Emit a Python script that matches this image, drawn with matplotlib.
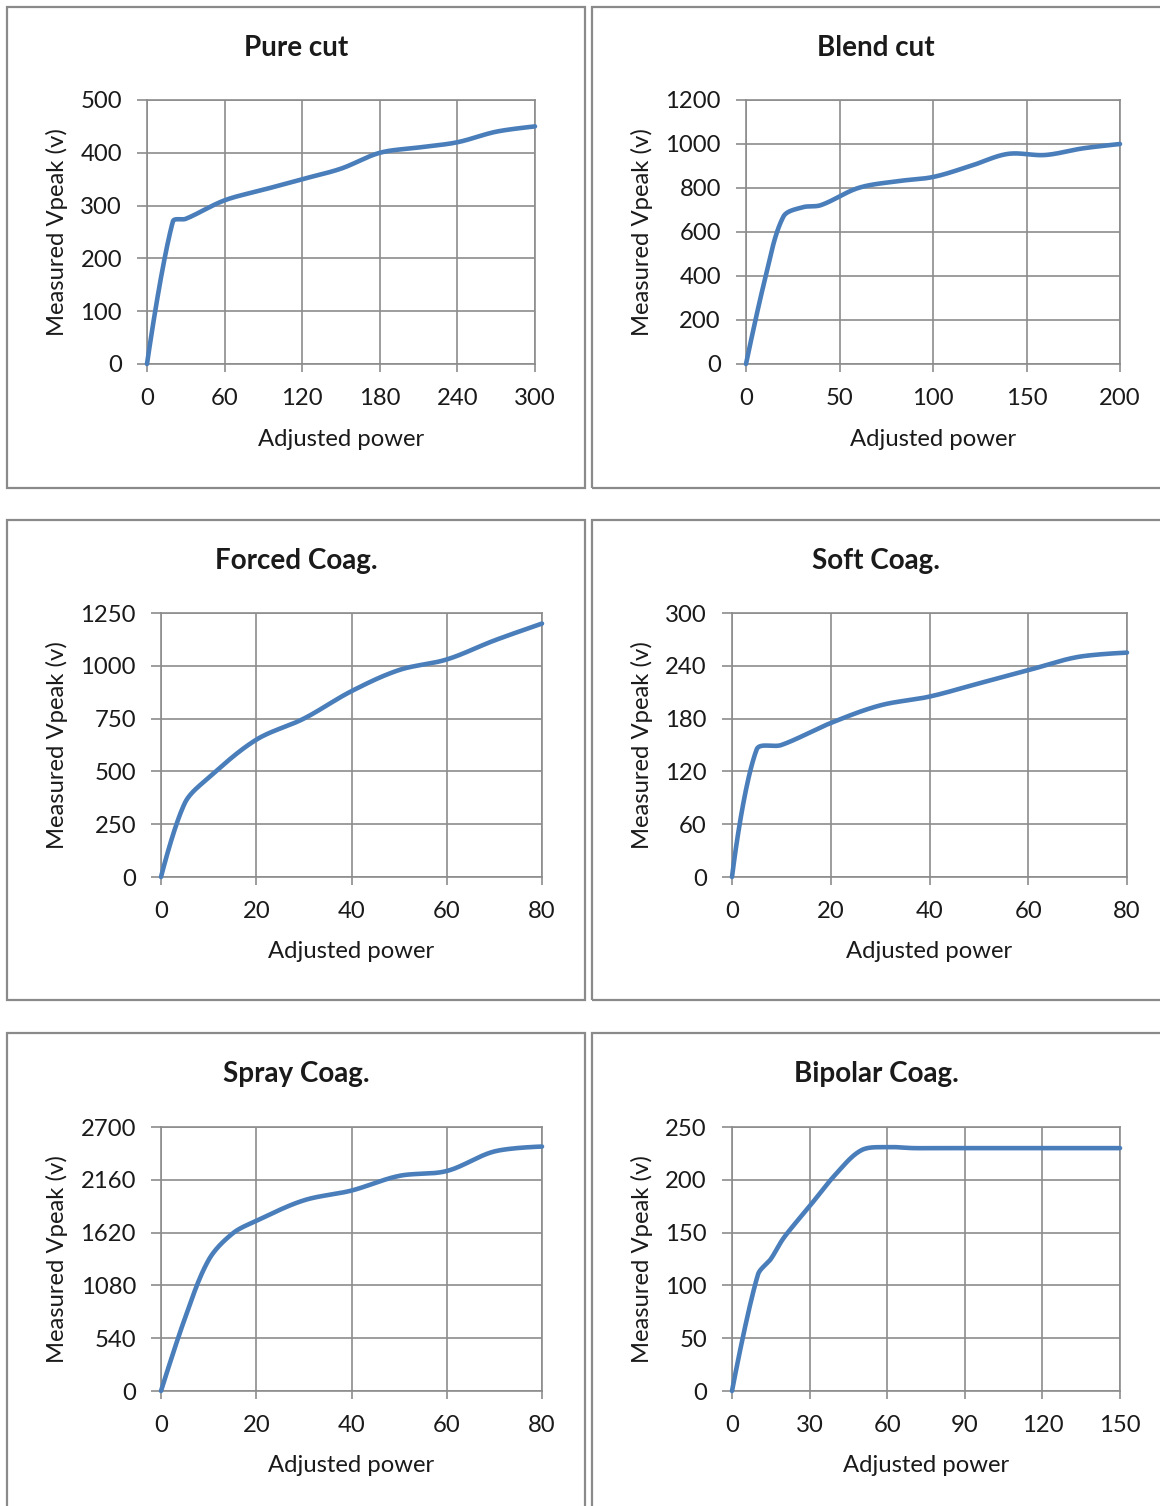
import numpy as np
import matplotlib
matplotlib.use("Agg")
import matplotlib.pyplot as plt
from matplotlib.patches import Rectangle

plt.rcParams['font.family'] = ['Lato', 'DejaVu Sans']

W, H = 1160, 1506
DPI = 100

# ---------------- data ----------------
titles = ["Pure cut", "Blend cut", "Forced Coag.", "Soft Coag.", "Spray Coag.", "Bipolar Coag."]

pure_x = [0, 20, 30, 60, 90, 120, 150, 180, 210, 240, 270, 300]
pure_y = [0, 270, 275, 310, 330, 350, 370, 400, 410, 420, 440, 450]

blend_x = [0, 10, 20, 30, 40, 60, 80, 100, 120, 140, 160, 180, 200]
blend_y = [0, 380, 670, 712, 722, 800, 830, 850, 900, 955, 950, 980, 1000]

forced_x = [0, 5, 10, 20, 30, 40, 50, 60, 70, 80]
forced_y = [0, 350, 470, 650, 750, 880, 980, 1030, 1120, 1200]

soft_x = [0, 5, 10, 20, 30, 40, 50, 60, 70, 80]
soft_y = [0, 145, 150, 175, 195, 205, 220, 235, 250, 255]

spray_x = [0, 5, 10, 15, 20, 30, 40, 50, 60, 70, 80]
spray_y = [0, 740, 1340, 1610, 1740, 1950, 2050, 2200, 2250, 2450, 2500]

bipolar_x = [0, 10, 15, 20, 30, 40, 50, 60, 70, 80, 90, 100, 110, 120, 130, 140, 150]
bipolar_y = [0, 110, 125, 145, 175, 205, 228, 231, 230, 230, 230, 230, 230, 230, 230, 230, 230]

pure_xticks = [0, 60, 120, 180, 240, 300]
pure_yticks = [0, 100, 200, 300, 400, 500]
blend_xticks = [0, 50, 100, 150, 200]
blend_yticks = [0, 200, 400, 600, 800, 1000, 1200]
forced_xticks = [0, 20, 40, 60, 80]
forced_yticks = [0, 250, 500, 750, 1000, 1250]
soft_xticks = [0, 20, 40, 60, 80]
soft_yticks = [0, 60, 120, 180, 240, 300]
spray_xticks = [0, 20, 40, 60, 80]
spray_yticks = [0, 540, 1080, 1620, 2160, 2700]
bipolar_xticks = [0, 30, 60, 90, 120, 150]
bipolar_yticks = [0, 50, 100, 150, 200, 250]

xlabel = "Adjusted power"
ylabel = "Measured Vpeak (v)"

series = [
    (pure_x, pure_y, pure_xticks, pure_yticks),
    (blend_x, blend_y, blend_xticks, blend_yticks),
    (forced_x, forced_y, forced_xticks, forced_yticks),
    (soft_x, soft_y, soft_xticks, soft_yticks),
    (spray_x, spray_y, spray_xticks, spray_yticks),
    (bipolar_x, bipolar_y, bipolar_xticks, bipolar_yticks),
]

# ---------------- layout (pixels) ----------------
plot_boxes = [  # left, top, right, bottom of plot area in pixels
    (147, 100, 535, 364),
    (746, 100, 1120, 364),
    (161, 613, 542, 877),
    (732, 613, 1127, 877),
    (161, 1127, 542, 1391),
    (732, 1127, 1120, 1391),
]
chart_boxes = [
    (7, 7, 585, 488), (592, 7, 1163, 488),
    (7, 520, 585, 1000), (592, 520, 1163, 1000),
    (7, 1033, 585, 1512), (592, 1033, 1163, 1512),
]

LINE_C = '#4a7ebb'
GRID_C = '#8c8c8c'
TEXT_C = '#1a1a1a'
FS = 17.2
TFS = 20

fig = plt.figure(figsize=(W / DPI, H / DPI), dpi=DPI)
fig.patch.set_facecolor('white')

def fx(px):
    return px / W

def fy(py):
    return 1 - py / H

for (l, t, r, b) in chart_boxes:
    fig.patches.append(Rectangle((fx(l), fy(b)), fx(r - l), (b - t) / H,
                                 transform=fig.transFigure, fill=False,
                                 edgecolor='#8a8a8a', linewidth=1.6, zorder=0))


def smooth(ax, xs, ys, n=40):
    """Excel-like smoothed line: Bezier segments in display space."""
    pts = ax.transData.transform(np.column_stack([xs, ys]).astype(float))
    m = len(pts)
    out = [pts[0]]
    d = np.linalg.norm(np.diff(pts, axis=0), axis=1)
    for i in range(m - 1):
        p0, p1 = pts[i], pts[i + 1]
        if i == 0:
            c1 = p0
        else:
            tvec = pts[i + 1] - pts[i - 1]
            c1 = p0 + tvec * d[i] / (d[i - 1] + d[i]) / 3.0
        if i + 1 == m - 1:
            c2 = p1
        else:
            tvec = pts[i + 2] - pts[i]
            c2 = p1 - tvec * d[i] / (d[i] + d[i + 1]) / 3.0
        tt = np.linspace(0, 1, n)[1:, None]
        seg = ((1 - tt) ** 3) * p0 + 3 * ((1 - tt) ** 2) * tt * c1 + 3 * (1 - tt) * tt ** 2 * c2 + tt ** 3 * p1
        out.extend(seg)
    out = np.array(out)
    return ax.transData.inverted().transform(out)


for k, ((xs, ys, xt, yt), (l, t, r, b), (cl, ct, cr, cb)) in enumerate(zip(series, plot_boxes, chart_boxes)):
    ax = fig.add_axes([fx(l), fy(b), fx(r - l), (b - t) / H])
    ax.set_xlim(xt[0], xt[-1])
    ax.set_ylim(yt[0], yt[-1])
    ax.set_xticks(xt)
    ax.set_yticks(yt)
    ax.set_xticklabels([str(v) for v in xt])
    ax.set_yticklabels([str(v) for v in yt])
    ax.grid(True, color=GRID_C, linewidth=1.2)
    ax.set_axisbelow(True)
    for s in ax.spines.values():
        s.set_color(GRID_C)
        s.set_linewidth(1.2)
    ax.tick_params(axis='y', direction='out', length=7, width=1.2, color=GRID_C,
                   pad=11, labelsize=FS, labelcolor=TEXT_C)
    ax.tick_params(axis='x', direction='out', length=6, width=1.2, color=GRID_C,
                   pad=11, labelsize=FS, labelcolor=TEXT_C)
    fig.canvas.draw()
    sm = smooth(ax, xs, ys)
    ax.plot(sm[:, 0], sm[:, 1], color=LINE_C, linewidth=3.3, solid_capstyle='round',
            clip_on=False, zorder=3)
    # title
    fig.text(fx((cl + min(cr, W)) / 2), fy(ct + 41), titles[k], ha='center', va='center',
             fontsize=TFS, fontweight='bold', color=TEXT_C)
    # x label
    fig.text(fx((l + r) / 2), fy(b + 75), xlabel, ha='center', va='center',
             fontsize=FS, color=TEXT_C)
    # y label
    fig.text(fx(cl + 50), fy((t + b) / 2), ylabel, ha='center', va='center',
             rotation=90, fontsize=FS, color=TEXT_C)

fig.savefig('out.png', dpi=DPI, facecolor='white')
